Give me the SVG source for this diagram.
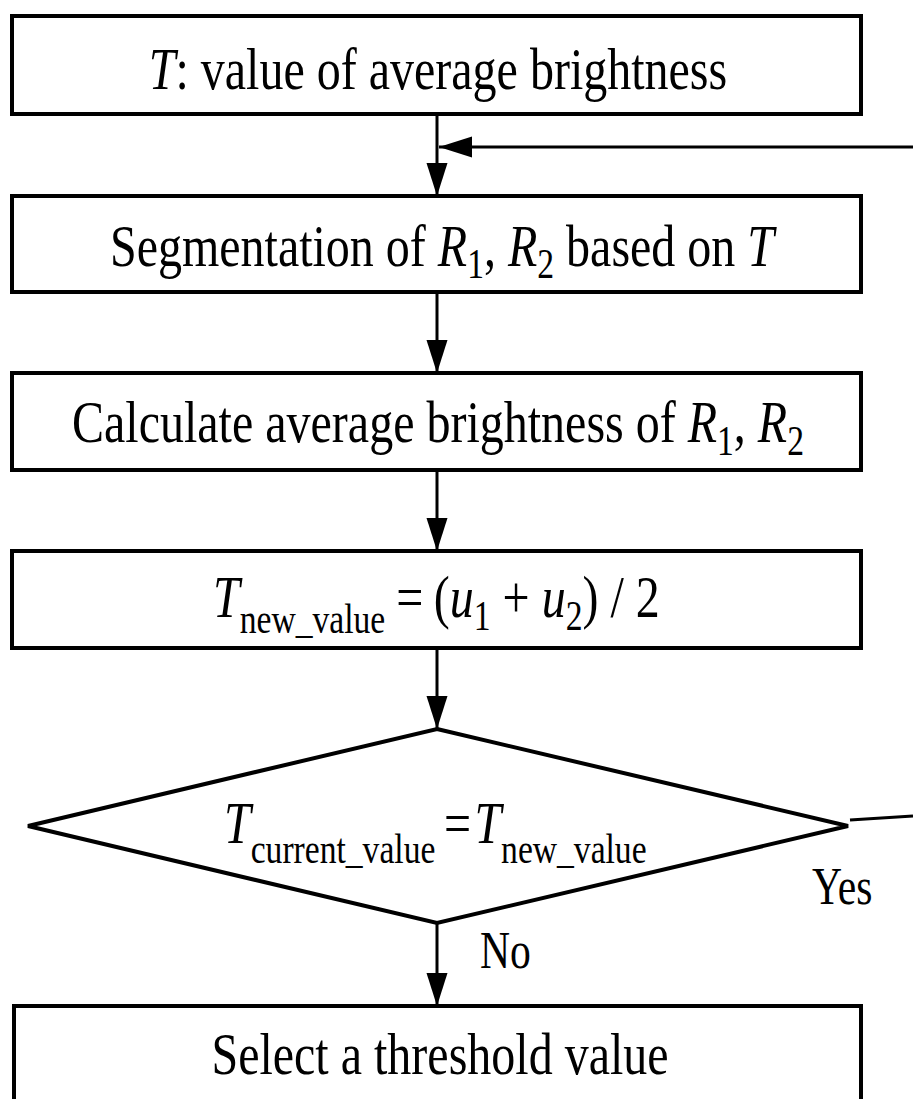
<svg xmlns="http://www.w3.org/2000/svg" width="913" height="1099" viewBox="0 0 913 1099">
<style>
.box{fill:#fff;stroke:#000;stroke-width:4}
.t{font-family:"Liberation Serif","Times New Roman",serif;font-size:60px;fill:#000}
.i{font-style:italic}
.s{font-size:42px}
.lbl{font-family:"Liberation Serif","Times New Roman",serif;font-size:52px;fill:#000}
.c{fill:none;stroke:#000;stroke-width:3}
</style>
<defs>
<marker id="ah" markerUnits="userSpaceOnUse" markerWidth="34" markerHeight="22" refX="33" refY="10.5" orient="auto">
<path d="M0,0 L33,10.5 L0,21 z" fill="#000"/>
</marker>
</defs>
<rect width="913" height="1099" fill="#fff"/>
<g id="connectors">
<line class="c" x1="437" y1="114" x2="437" y2="196" marker-end="url(#ah)"/>
<line class="c" x1="913" y1="147" x2="439" y2="147" stroke-width="4" marker-end="url(#ah)"/>
<line class="c" x1="437" y1="292" x2="437" y2="373" marker-end="url(#ah)"/>
<line class="c" x1="437" y1="470" x2="437" y2="551" marker-end="url(#ah)"/>
<line class="c" x1="437" y1="648" x2="437" y2="729" marker-end="url(#ah)"/>
<line class="c" x1="437" y1="923" x2="437" y2="1006" marker-end="url(#ah)"/>
<line class="c" x1="850" y1="820" x2="913" y2="816"/>
<g transform="translate(812,0) scale(0.8,1)"><text class="lbl" x="0" y="904">Yes</text></g>
<g transform="translate(480,0) scale(0.8,1)"><text class="lbl" x="0" y="968">No</text></g>
</g>
<g id="n1">
<rect class="box" x="12" y="16" width="849" height="98"/>
<g transform="translate(438,0) scale(0.8,1)">
<text class="t" x="0" y="89" text-anchor="middle"><tspan class="i">T</tspan>: value of average brightness</text>
</g>
</g>
<g id="n2">
<rect class="box" x="12" y="196" width="849" height="96"/>
<g transform="translate(442,0) scale(0.8,1)">
<text class="t" x="0" y="266" text-anchor="middle">Segmentation of <tspan class="i">R</tspan><tspan class="s" dy="12">1</tspan><tspan dy="-12">, </tspan><tspan class="i">R</tspan><tspan class="s" dy="12">2</tspan><tspan dy="-12"> based on </tspan><tspan class="i">T</tspan></text>
</g>
</g>
<g id="n3">
<rect class="box" x="12" y="373" width="849" height="97"/>
<g transform="translate(438,0) scale(0.8,1)">
<text class="t" x="0" y="442" text-anchor="middle">Calculate average brightness of <tspan class="i">R</tspan><tspan class="s" dy="13">1</tspan><tspan dy="-13">, </tspan><tspan class="i">R</tspan><tspan class="s" dy="13">2</tspan></text>
</g>
</g>
<g id="n4">
<rect class="box" x="12" y="551" width="849" height="97"/>
<g transform="translate(437,0) scale(0.8,1)">
<text class="t" x="-280" y="617"><tspan class="i">T</tspan><tspan class="s" dy="16">new_value</tspan><tspan x="-51" dy="-16">=</tspan><tspan x="-4">(</tspan><tspan class="i">u</tspan><tspan class="s" dy="13">1</tspan><tspan dy="-13"> + </tspan><tspan class="i">u</tspan><tspan class="s" dy="13">2</tspan><tspan dy="-13">) / 2</tspan></text>
</g>
</g>
<g id="n5">
<polygon class="box" points="437,729 848,826 437,923 28,826"/>
<g transform="translate(440,0) scale(0.8,1)">
<text class="t" x="-270" y="843"><tspan class="i">T</tspan><tspan class="s" dy="20">current_value</tspan><tspan x="5" dy="-20">=</tspan><tspan x="43" class="i">T</tspan><tspan class="s" dy="20">new_value</tspan></text>
</g>
</g>
<g id="n6">
<rect class="box" x="14" y="1006" width="847" height="110"/>
<g transform="translate(440,0) scale(0.8,1)">
<text class="t" x="0" y="1074" text-anchor="middle">Select a threshold value</text>
</g>
</g>
</svg>
